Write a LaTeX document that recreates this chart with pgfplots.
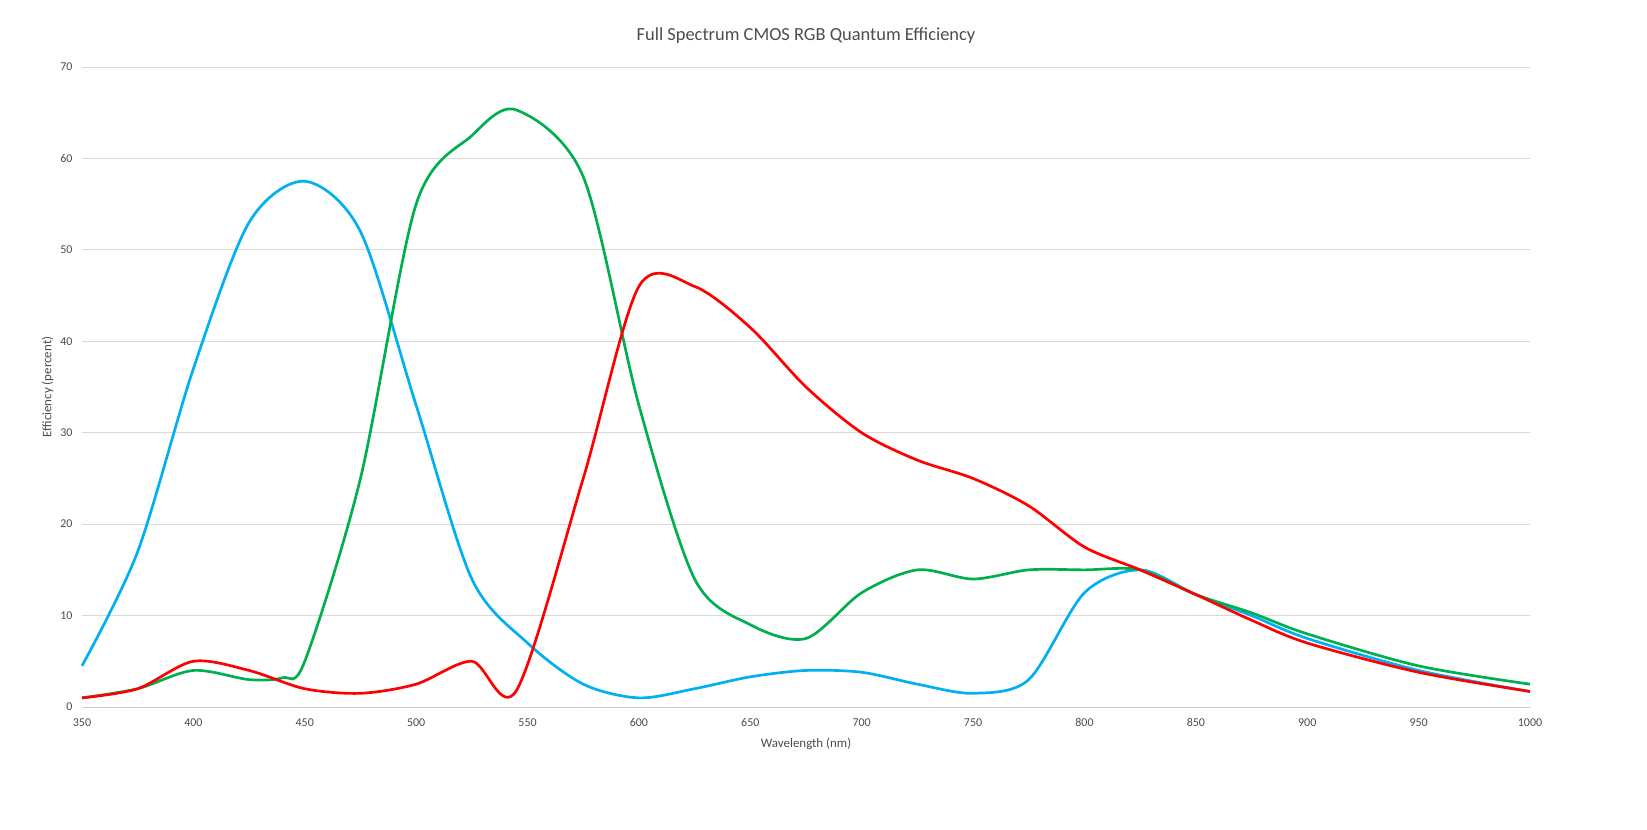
\documentclass[border=0pt]{standalone}
\usepackage{pgfplots}
\pgfplotsset{compat=1.18}
\usepackage{fontspec}
\setmainfont{Carlito}
\definecolor{xblue}{RGB}{0,176,240}
\definecolor{xgreen}{RGB}{0,176,80}
\begin{document}
\begin{tikzpicture}
\begin{axis}[name=ax,scale only axis,width=1448bp,height=640bp,
xmin=350,xmax=1000,ymin=0,ymax=70,
xtick distance=50,ytick distance=10,
axis line style={draw=none},
axis x line*=bottom,
ymajorgrids,grid style={gray!30,line width=0.8pt},
tick style={draw=none},
ticklabel style={font=\fontsize{12}{14}\selectfont,text=black!70},
yticklabel style={xshift=-6bp},
xticklabel style={yshift=-8bp},
/pgf/number format/assume math mode=true,
/pgf/number format/1000 sep={},
xlabel={Wavelength (nm)},ylabel={Efficiency (percent)},
xlabel style={yshift=-4bp},
label style={font=\fontsize{13}{15}\selectfont,text=black!70},
title={Full Spectrum CMOS RGB Quantum Efficiency},
title style={font=\fontsize{18.5}{22}\selectfont,text=black!70,yshift=14bp},
every axis plot/.style={line width=2.7pt,smooth,tension=0.5,no marks},
clip=false]
\draw[gray!40,line width=0.8pt] (rel axis cs:0,0)--(rel axis cs:1,0);
\addplot[color=xblue] coordinates {(350,4.5)(375,17)(400,37)(425,53)(450,57.5)(475,52)(500,33)(525,14)(550,7)(575,2.5)(600,1)(625,2)(650,3.3)(675,4)(700,3.8)(725,2.5)(750,1.5)(775,3)(800,12.5)(825,15)(850,12.3)(875,10)(900,7.5)(950,4)(1000,1.7)};
\addplot[color=xgreen] coordinates {(350,1)(375,2)(400,4)(425,3)(440,3.2)(450,5)(475,25)(500,55)(525,62.5)(545,65.3)(575,58)(600,33)(625,14)(650,9)(675,7.5)(700,12.5)(725,15)(750,14)(775,15)(800,15)(825,15)(850,12.3)(875,10.3)(900,8)(950,4.5)(1000,2.5)};
\addplot[color=red] coordinates {(350,1)(375,2)(400,5)(425,4)(450,2)(475,1.5)(500,2.5)(525,5)(545,1.8)(575,25)(600,46)(625,46)(650,41.5)(675,35)(700,30)(725,27)(750,25)(775,22)(800,17.5)(825,15)(850,12.3)(875,9.5)(900,7)(950,3.8)(1000,1.7)};
\end{axis}
\pgfresetboundingbox
\path[use as bounding box] ([xshift=-82bp,yshift=-122bp]ax.south west) rectangle ([xshift=117bp,yshift=67bp]ax.north east);
\end{tikzpicture}
\end{document}
